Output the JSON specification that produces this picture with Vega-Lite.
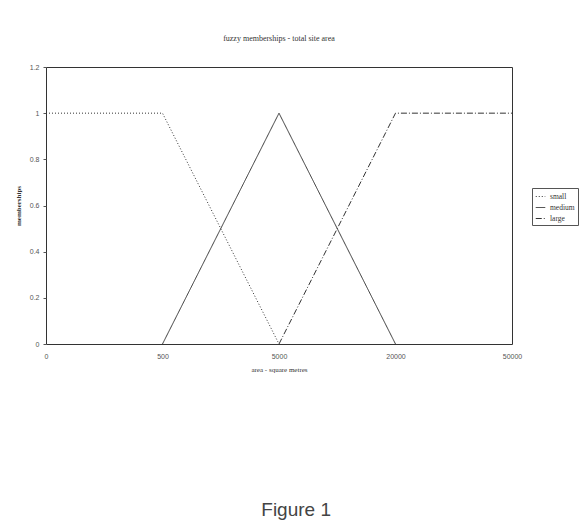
{
  "$schema": "https://vega.github.io/schema/vega-lite/v6.json",
  "background": "white",
  "padding": {"left": 13, "top": 34, "right": 5, "bottom": 5},
  "title": {"text": "Figure 1", "orient": "bottom", "anchor": "middle", "font": "Liberation Sans", "fontSize": 19, "fontWeight": "normal", "color": "#444", "offset": 128},
  "vconcat": [
    {
      "title": {"text": "fuzzy memberships - total site area", "font": "Liberation Serif", "fontSize": 8, "fontWeight": "normal", "color": "#333", "offset": 20, "anchor": "middle"},
      "width": 466,
      "height": 277,
      "data": {"values": [
        {"series": "small", "area": "0", "m": 1},
        {"series": "small", "area": "500", "m": 1},
        {"series": "small", "area": "5000", "m": 0},
        {"series": "medium", "area": "500", "m": 0},
        {"series": "medium", "area": "5000", "m": 1},
        {"series": "medium", "area": "20000", "m": 0},
        {"series": "large", "area": "5000", "m": 0},
        {"series": "large", "area": "20000", "m": 1},
        {"series": "large", "area": "50000", "m": 1}
      ]},
      "mark": {"type": "line", "strokeWidth": 1, "color": "#333"},
      "encoding": {
        "x": {"field": "area", "type": "ordinal", "sort": ["0", "500", "5000", "20000", "50000"],
          "scale": {"type": "point", "padding": 0},
          "axis": {"title": "area - square metres", "labelAngle": 0, "ticks": false, "domain": false, "labelPadding": 8, "titlePadding": 6}},
        "y": {"field": "m", "type": "quantitative", "scale": {"domain": [0, 1.2], "nice": false},
          "axis": {"title": "memberships", "values": [0, 0.2, 0.4, 0.6, 0.8, 1, 1.2], "format": "~g", "grid": false, "domain": false, "tickSize": 3, "tickColor": "#555", "labelPadding": 4, "titlePadding": 8, "titleFontWeight": "bold"}},
        "strokeDash": {"field": "series", "type": "nominal", "sort": ["small", "medium", "large"],
          "scale": {"domain": ["small", "medium", "large"], "range": [[1, 2], [1, 0], [6, 2, 1, 2]]},
          "legend": {"title": null, "orient": "none", "legendX": 486, "legendY": 121, "strokeColor": "#555", "padding": 3, "symbolType": "stroke", "symbolSize": 90, "symbolStrokeWidth": 1, "symbolStrokeColor": "#333", "labelFont": "Liberation Serif", "labelFontSize": 7.5, "labelColor": "#333", "rowPadding": 2}}
      }
    }
  ],
  "config": {
    "view": {"stroke": "#333", "strokeWidth": 1},
    "axis": {"labelFont": "Liberation Sans", "labelFontSize": 7, "labelColor": "#555", "titleFont": "Liberation Serif", "titleFontSize": 7, "titleColor": "#333", "titleFontWeight": "normal"}
  }
}
